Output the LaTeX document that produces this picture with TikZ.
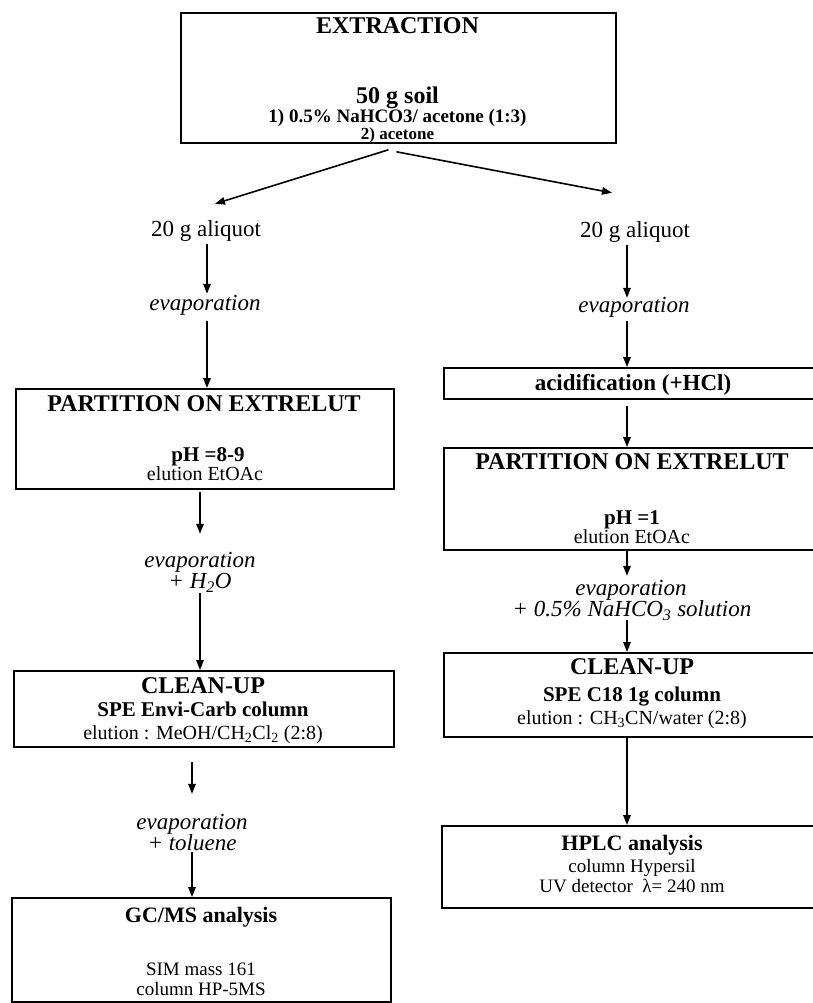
\documentclass[tikz,border=0pt]{standalone}
\usepackage{fontspec}
\setmainfont{Liberation Serif}
\usetikzlibrary{arrows.meta}
\begin{document}
\begin{tikzpicture}[x=1pt,y=-1pt,
  box/.style={draw, line width=1.8pt, inner sep=0, anchor=north west},
  arr/.style={line width=1.6pt, -{Triangle[length=10pt,width=7.5pt]}},
  hd/.style={inner sep=0, text height=17pt, text depth=1.5pt, font=\fontsize{24}{24}\selectfont\bfseries},
  hdm/.style={inner sep=0, text height=16pt, text depth=1.5pt, font=\fontsize{22}{22}\selectfont\bfseries},
  hda/.style={inner sep=0, text height=16.5pt, text depth=1.5pt, font=\fontsize{23}{23}\selectfont\bfseries},
  big/.style={inner sep=0, text height=16.5pt, text depth=1.5pt, font=\fontsize{23}{23}\selectfont},
  itl/.style={inner sep=0, text height=16.5pt, text depth=1.5pt, font=\fontsize{23}{23}\selectfont\itshape},
  sb/.style={inner sep=0, text height=15pt, text depth=1.3pt, font=\fontsize{21}{21}\selectfont\bfseries},
  sm/.style={inner sep=0, text height=14.5pt, text depth=1.3pt, font=\fontsize{20}{20}\selectfont},
  tb/.style={inner sep=0, text height=14pt, text depth=1.2pt, font=\fontsize{19}{19}\selectfont\bfseries},
  tc/.style={inner sep=0, text height=12.5pt, text depth=1.1pt, font=\fontsize{17}{17}\selectfont\bfseries},
  hr/.style={inner sep=0, text height=14pt, text depth=1.2pt, font=\fontsize{19}{19}\selectfont}
]
\useasboundingbox (0,0) rectangle (813,1003);
\fill[white] (0,0) rectangle (813,1003);
\clip (0,0) rectangle (813,1003);

% ---------- top box
\node[box, minimum width=435pt, minimum height=130pt] (box0) at (180,12) {};
\node[hd] (t0a) at (397.5,26) {EXTRACTION};
\node[hd] (t0b) at (397.5,96) {50 g soil};
\node[tb] (t0c) at (397.5,116) {1) 0.5\% NaHCO3/ acetone (1:3)};
\node[tc] (t0d) at (397.5,134) {2) acetone};

% ---------- left column
\node[big] (ali1) at (206,229) {20 g aliquot};
\node[itl] (ev1) at (205,303) {evaporation};

\node[box, minimum width=378pt, minimum height=100pt] (box1) at (15,388) {};
\node[hd] (t1a) at (204,404) {PARTITION ON EXTRELUT};
\node[sb] (t1b) at (208,455) {pH =8-9};
\node[sm] (t1c) at (205,474) {elution EtOAc};

\node[itl] (ev2) at (200,560) {evaporation};
\node[itl] (ev2b) at (200,581) {+ H\textsubscript{2}O};

\node[box, minimum width=380pt, minimum height=76pt] (box2) at (13,670) {};
\node[hd] (t2a) at (203,686) {CLEAN-UP};
\node[sb] (t2b) at (203,710) {SPE Envi-Carb column};
\node[sm] (t2c) at (203,733) {elution : MeOH/CH\textsubscript{2}Cl\textsubscript{2} (2:8)};

\node[itl] (ev3) at (192,822) {evaporation};
\node[itl] (ev3b) at (192,843) {+ toluene};

\node[box, minimum width=379pt, minimum height=104pt] (box3) at (11,897) {};
\node[hdm] (t3a) at (201,915) {GC/MS analysis};
\node[hr] (t3b) at (201,969) {SIM mass 161};
\node[hr] (t3c) at (201,989) {column HP-5MS};

% ---------- right column
\node[big] (ali2) at (635,230) {20 g aliquot};
\node[itl] (ev4) at (634,305) {evaporation};

\node[box, minimum width=380pt, minimum height=31pt] (box4) at (443,367) {};
\node[hda] (t4) at (633,383) {acidification (+HCl)};

\node[box, minimum width=380pt, minimum height=102pt] (box5) at (443,447) {};
\node[hd] (t5a) at (632,462) {PARTITION ON EXTRELUT};
\node[sb] (t5b) at (632,518) {pH =1};
\node[sm] (t5c) at (632,537) {elution EtOAc};

\node[itl] (ev5) at (631,588) {evaporation};
\node[itl] (ev5b) at (632,609) {+ 0.5\% NaHCO\textsubscript{3} solution};

\node[box, minimum width=380pt, minimum height=84pt] (box6) at (443,652) {};
\node[hd] (t6a) at (632,667) {CLEAN-UP};
\node[sb] (t6b) at (632,695) {SPE C18 1g column};
\node[sm] (t6c) at (632,718) {elution : CH\textsubscript{3}CN/water (2:8)};

\node[box, minimum width=380pt, minimum height=82pt] (box7) at (441,825) {};
\node[hdm] (t7a) at (632,843) {HPLC analysis};
\node[hr] (t7b) at (632,866) {column Hypersil};
\node[hr] (t7c) at (632,886) {UV detector\ \ λ= 240 nm};

% ---------- connectors
\draw[arr] ([xshift=-10pt,yshift=-6pt]box0.south) -- ([xshift=9pt,yshift=16pt]ali1.north);
\draw[arr] ([xshift=-2pt,yshift=-8pt]box0.south) -- ([xshift=-23pt,yshift=28pt]ali2.north);

\draw[arr, shorten <=6pt] ([xshift=1pt]ali1.south) -- ([xshift=1pt]ali1.south |- ev1.north);
\draw[arr, shorten <=9pt] ([xshift=2pt]ev1.south) -- ([xshift=2pt]ev1.south |- box1.north);
\draw[arr, shorten <=2pt, shorten >=17pt] (box1.south -| ev2.north) -- (ev2.north);
\draw[arr, shorten <=3pt] (ev2b.south) -- (ev2b.south |- box2.north);
\draw[arr, shorten <=14pt, shorten >=19pt] (box2.south -| ev3.north) -- (ev3.north);
\draw[arr] (ev3b.south) -- (ev3b.south |- box3.north);

\draw[arr, shorten <=6pt, shorten >=-2pt] ([xshift=-8pt]ali2.south) -- ([xshift=-8pt]ali2.south |- ev4.north);
\draw[arr, shorten <=7pt] ([xshift=-7pt]ev4.south) -- ([xshift=-7pt]ev4.south |- box4.north);
\draw[arr, shorten <=6pt] ([xshift=-6pt]t4.south |- box4.south) -- ([xshift=-6pt]t4.south |- box5.north);
\draw[arr, shorten >=3pt] ([xshift=-5pt]t5c.south |- box5.south) -- ([xshift=-5pt]t5c.south |- ev5.north);
\draw[arr, shorten <=2pt] ([xshift=-5pt]ev5b.south) -- ([xshift=-5pt]ev5b.south |- box6.north);
\draw[arr] ([xshift=-5pt]t6c.south |- box6.south) -- ([xshift=-5pt]t6c.south |- box7.north);
\end{tikzpicture}
\end{document}
